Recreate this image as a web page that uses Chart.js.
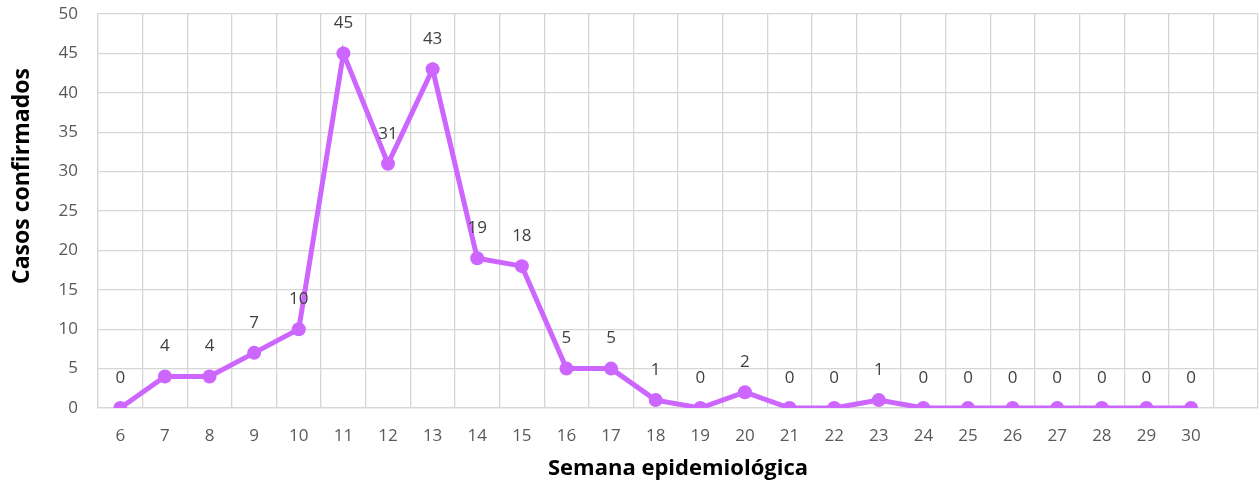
<!DOCTYPE html>
<html>
<head>
<meta charset="utf-8">
<script src="https://cdn.jsdelivr.net/npm/chart.js@4/dist/chart.umd.min.js"></script>
<style>
  html, body { margin: 0; padding: 0; background: #fff; }
  #wrap { width: 1259px; height: 486px; }
</style>
</head>
<body>
<div id="wrap"><canvas id="chart" width="1259" height="486"></canvas></div>
<script>
// semanas epidemiológicas 6..30, con una columna vacía al final como en el original
const weeks = ['6', '7', '8', '9', '10', '11', '12', '13', '14', '15', '16', '17', '18',
    '19', '20', '21', '22', '23', '24', '25', '26', '27', '28', '29', '30', '']
const cases = [0, 4, 4, 7, 10, 45, 31, 43, 19, 18, 5, 5, 1,
    0, 2, 0, 0, 1, 0, 0, 0, 0, 0, 0, 0, null]
const yTicks = [0, 5, 10, 15, 20, 25, 30, 35, 40, 45, 50]

const fontFamily = '"Open Sans", "Liberation Sans", sans-serif'
const lineColor = '#cc66ff'
const gridColor = '#d6d6d6'
const textColor = '#595959'

// etiquetas de valor sobre cada punto
const pointLabels = {
    id: 'pointLabels',
    afterDatasetsDraw(chart) {
        const ctx = chart.ctx
        const meta = chart.getDatasetMeta(0)
        ctx.save()
        ctx.font = `17px ${fontFamily}`
        ctx.fillStyle = '#404040'
        ctx.textAlign = 'center'
        ctx.textBaseline = 'middle'
        meta.data.forEach((pt, i) => {
            const v = cases[i]
            if (v === null || v === undefined) return
            ctx.fillText(String(v), pt.x, pt.y - 30)
        })
        ctx.restore()
    }
}

// título del eje Y (en el original no queda centrado sobre el área)
const yTitle = {
    id: 'yTitle',
    afterDraw(chart) {
        const ctx = chart.ctx
        ctx.save()
        ctx.translate(22, 176)
        ctx.rotate(-Math.PI / 2)
        ctx.font = `bold 23px ${fontFamily}`
        ctx.fillStyle = '#000'
        ctx.textAlign = 'center'
        ctx.textBaseline = 'middle'
        ctx.fillText('Casos confirmados', 0, 0)
        ctx.restore()
    }
}

new Chart('chart', {
    type: 'line',
    data: {
        labels: weeks,
        datasets: [{
            data: cases,
            borderColor: lineColor,
            backgroundColor: lineColor,
            borderWidth: 5,
            pointRadius: 7,
            pointHoverRadius: 7,
            pointBackgroundColor: lineColor,
            pointBorderWidth: 0,
            tension: 0,
            spanGaps: false
        }]
    },
    options: {
        responsive: false,
        animation: false,
        layout: {autoPadding: false, padding: {top: 0, right: 1, left: 0, bottom: 0}},
        plugins: {
            legend: {display: false},
            tooltip: {enabled: false}
        },
        scales: {
            x: {
                offset: true,
                grid: {color: gridColor, lineWidth: 1.3, offset: true, drawTicks: false},
                border: {color: gridColor, width: 1.3},
                ticks: {color: textColor, font: {family: fontFamily, size: 17}, padding: 18, maxRotation: 0, autoSkip: false},
                title: {
                    display: true,
                    text: 'Semana epidemiológica',
                    color: '#000',
                    font: {family: fontFamily, size: 22, weight: 'bold'},
                    padding: {top: 6}
                },
                afterFit(scale) { scale.height = 78 }
            },
            y: {
                min: 0,
                max: 50,
                afterBuildTicks(scale) { scale.ticks = yTicks.map(v => ({value: v})) },
                grid: {color: gridColor, lineWidth: 1.3, drawTicks: false},
                border: {color: gridColor, width: 1.3},
                ticks: {color: textColor, font: {family: fontFamily, size: 17}, padding: 20},
                afterFit(scale) {
                    scale.width = 98
                    scale.paddingTop = 14
                }
            }
        }
    },
    plugins: [pointLabels, yTitle]
})
</script>
</body>
</html>
